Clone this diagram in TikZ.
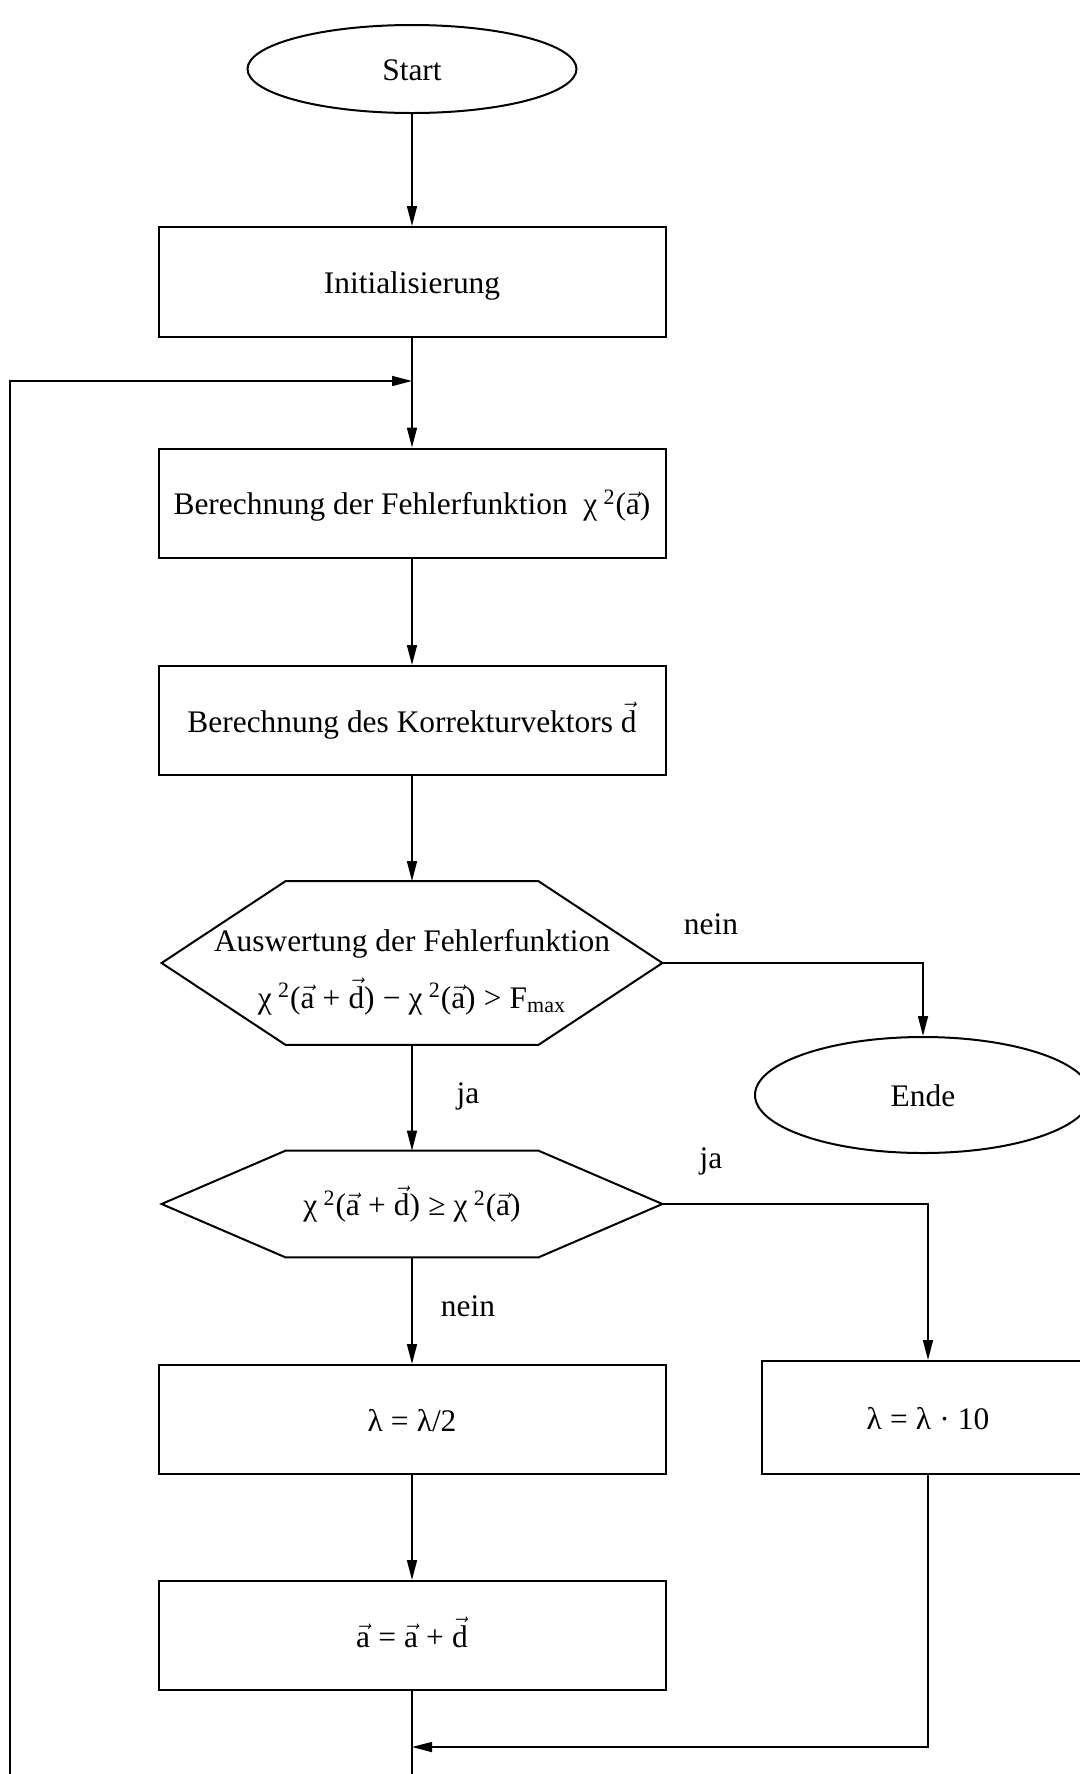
\documentclass[tikz,border=0pt]{standalone}
\usepackage{amsmath}
\usepackage{fontspec}
\setmainfont{Liberation Serif}
\usetikzlibrary{arrows.meta,shapes.geometric}

% vector symbols and operators set in the text font
\newcommand\va{\ensuremath{\vec{\text{a}}}}
\newcommand\vd{\ensuremath{\vec{\text{d}}}}
\newcommand\chisq{χ\kern0.08em\textsuperscript{\,2}}
\newcommand\bop[1]{\kern0.26em#1\kern0.26em}

\begin{document}
\begin{tikzpicture}[x=0.5pt,y=-0.5pt,
  every node/.style={font=\fontsize{15.7pt}{19pt}\selectfont, inner sep=0pt},
  fixedtext/.style={text height=14.5pt, text depth=3pt},
  box/.style={draw, line width=1pt, rectangle, minimum width=253.5pt, minimum height=54.5pt, fixedtext},
  term/.style={draw, line width=1pt, ellipse, fixedtext},
  hexbox/.style={rectangle, minimum width=250pt},
  hexline/.style={line width=1pt, line join=miter},
  flow/.style={line width=0.8pt},
  >={Triangle[length=10pt,width=5pt]}]

\path[use as bounding box, clip] (0,0) rectangle (1080,1774);

% main column
\node[term, minimum width=164.5pt, minimum height=44pt] (start) at (412,69) {Start};
\node[box, minimum height=55pt] (init) at (412,282) {Initialisierung};
\coordinate (merge) at (412,381);
\node[box] (fehl) at (412,503) {Berechnung der Fehlerfunktion\ \ \chisq(\va)};
\node[box] (korr) at (412,720.5) {Berechnung des Korrekturvektors \vd};

% first decision: hexagon outline around an empty frame node
\node[hexbox, minimum height=81.5pt] (test) at (412,963) {};
\draw[hexline] ([xshift=62pt]test.north west) -- ([xshift=-62pt]test.north east)
  -- (test.east) -- ([xshift=-62pt]test.south east) -- ([xshift=62pt]test.south west)
  -- (test.west) -- cycle;
\node[align=center] (testtext) at (412,972)
  {Auswertung der Fehlerfunktion\\[9.5pt]
   \chisq(\va\bop{+}\vd)\bop{−}\chisq(\va)\bop{>}F\textsubscript{max}};

\node[term, minimum width=168pt, minimum height=58pt] (ende) at (923,1095) {Ende};

% second decision
\node[hexbox, minimum height=53pt, fixedtext] (cmp) at (412,1204)
  {\chisq(\va\bop{+}\vd)\bop{≥}\chisq(\va)};
\draw[hexline] ([xshift=62pt]cmp.north west) -- ([xshift=-62pt]cmp.north east)
  -- (cmp.east) -- ([xshift=-62pt]cmp.south east) -- ([xshift=62pt]cmp.south west)
  -- (cmp.west) -- cycle;

\node[box] (halve) at (412,1419.5) {λ\bop{=}λ/2};
\node[box, minimum width=166pt, minimum height=56.5pt] (tenfold) at (928,1417.5) {λ\bop{=}λ\bop{·}10};
\node[box] (update) at (412,1635.5) {\va\bop{=}\va\bop{+}\vd};

% branch labels
\node (lnein1) at (711,924) {nein};
\node (lja1) at (468,1096) {ja};
\node (lja2) at (711,1161) {ja};
\node (lnein2) at (468,1306) {nein};

% connectors
\draw[flow,->] (start) -- (init);
\draw[flow,->] (init) -- (fehl);
\draw[flow,->] (fehl) -- (korr);
\draw[flow,->] (korr) -- (test);
\draw[flow,->] (test.east) -| (ende.north);
\draw[flow,->] (test) -- (cmp);
\draw[flow,->] (cmp.east) -| (tenfold.north);
\draw[flow,->] (cmp) -- (halve);
\draw[flow,->] (halve) -- (update);

\coordinate (join) at (412,1747);
\draw[flow,->] (tenfold.south) |- (join);

% iteration loop back to the top
\coordinate (loopbottom) at (412,1800);
\coordinate (loopleft) at (10,381);
\draw[flow,->] (update.south) -- (loopbottom) -| (loopleft) -- (merge);
\end{tikzpicture}
\end{document}
